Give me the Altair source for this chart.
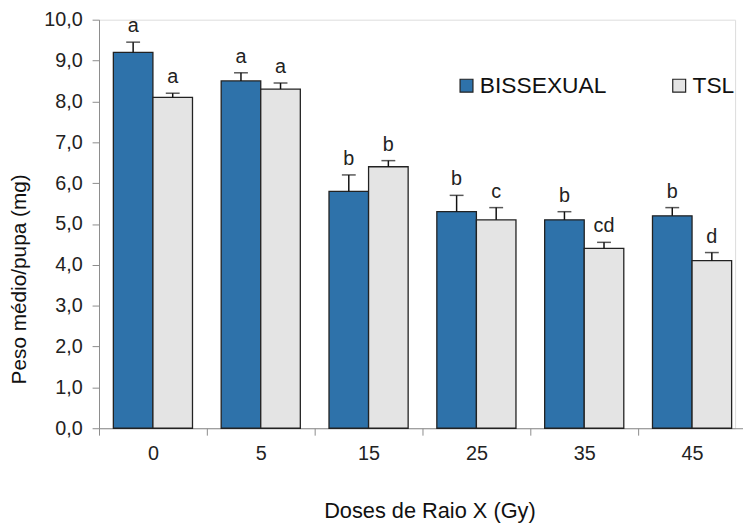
import altair as alt
import pandas as pd

doses = ["0", "5", "15", "25", "35", "45"]
series = ["BISSEXUAL", "TSL"]
bissexual = [9.2, 8.5, 5.8, 5.3, 5.1, 5.2]
bissexual_err = [0.25, 0.2, 0.4, 0.4, 0.2, 0.2]
bissexual_letters = ["a", "a", "b", "b", "b", "b"]
tsl = [8.1, 8.3, 6.4, 5.1, 4.4, 4.1]
tsl_err = [0.1, 0.15, 0.15, 0.3, 0.15, 0.2]
tsl_letters = ["a", "a", "b", "c", "cd", "d"]

rows = []
for i, d in enumerate(doses):
    rows.append({"dose": d, "serie": "BISSEXUAL", "v": bissexual[i], "hi": bissexual[i] + bissexual_err[i], "lab": bissexual_letters[i]})
    rows.append({"dose": d, "serie": "TSL", "v": tsl[i], "hi": tsl[i] + tsl_err[i], "lab": tsl_letters[i]})
df = pd.DataFrame(rows)

FONT = "Liberation Sans"

x = alt.X("dose:N", sort=doses, scale=alt.Scale(paddingInner=0, paddingOuter=0, range=[0, 654]),
          axis=alt.Axis(title="Doses de Raio X (Gy)", labelAngle=0, tickBand="extent",
                        labelFontSize=20, labelPadding=9, titleFontSize=22,
                        titlePadding=37, tickSize=7, domainColor="#8c8c8c",
                        tickColor="#8c8c8c", labelColor="#222", titleColor="#111",
                        labelFont=FONT, titleFont=FONT, titleFontWeight="normal",
                        titleX=334))
xo = alt.XOffset("serie:N", sort=series, scale=alt.Scale(paddingInner=0, paddingOuter=0.3625))

base = alt.Chart(df)

bars = base.mark_bar(stroke="#222", strokeWidth=1.3).encode(
    x=x, xOffset=xo,
    y=alt.Y("v:Q", scale=alt.Scale(domain=[0, 10], nice=False),
            axis=alt.Axis(title="Peso médio/pupa  (mg)", values=[0, 1, 2, 3, 4, 5, 6, 7, 8, 9, 10],
                          labelExpr="replace(format(datum.value, '.1f'), '.', ',')",
                          grid=False, labelFontSize=20, titleFontSize=21, tickSize=7,
                          domainColor="#8c8c8c", tickColor="#8c8c8c", labelColor="#222",
                          titleColor="#111", labelFont=FONT, titleFont=FONT,
                          titleFontWeight="normal", labelPadding=10,
                          titleX=-74, titleY=262, titleBaseline="alphabetic")),
    color=alt.Color("serie:N", sort=series,
                    scale=alt.Scale(domain=series, range=["#2E72AA", "#E4E4E4"]),
                    legend=alt.Legend(title=None, orient="none", legendX=360, legendY=55,
                                      direction="horizontal", symbolType="square",
                                      symbolSize=170, symbolStrokeColor="#222",
                                      symbolStrokeWidth=1.2, labelFontSize=23,
                                      labelFont=FONT, labelColor="#111",
                                      columnPadding=62, labelOffset=2)),
)

rules = base.mark_rule(color="#111", strokeWidth=1.5).encode(
    x=x, xOffset=xo, y="v:Q", y2="hi:Q")
caps = base.mark_tick(color="#111", thickness=1.5, size=14, orient="horizontal").encode(
    x=x, xOffset=xo, y="hi:Q")
labels = base.mark_text(baseline="bottom", dy=-6, fontSize=20, font=FONT, color="#222").encode(
    x=x, xOffset=xo, y="hi:Q", text="lab:N")

chart = alt.layer(bars, rules, caps, labels).properties(
    width=643, height=413,
    autosize=alt.AutoSizeParams(type="none"),
    padding={"left": 92, "top": 9, "right": 8, "bottom": 94},
).configure_view(stroke=None).configure(font=FONT)

chart.save("out.html", embed_options={"renderer": "svg", "actions": False})
